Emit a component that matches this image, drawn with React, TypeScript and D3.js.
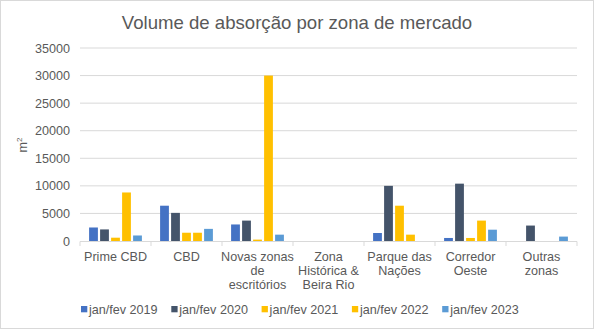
import React from "react";
import * as d3 from "d3";

const categories = [
  "Prime CBD",
  "CBD",
  "Novas zonas de escritórios",
  "Zona Histórica & Beira Rio",
  "Parque das Nações",
  "Corredor Oeste",
  "Outras zonas",
];
const categoryLines = [
  ["Prime CBD"],
  ["CBD"],
  ["Novas zonas", "de", "escritórios"],
  ["Zona", "Histórica &", "Beira Rio"],
  ["Parque das", "Nações"],
  ["Corredor", "Oeste"],
  ["Outras", "zonas"],
];
const seriesNames = ["jan/fev 2019", "jan/fev 2020", "jan/fev 2021", "jan/fev 2022", "jan/fev 2023"];
const seriesColors = ["#4472C4", "#44546A", "#FFC000", "#FFC000", "#5B9BD5"];
const v2019 = [2450, 6400, 3000, 0, 1450, 550, 0];
const v2020 = [2100, 5100, 3700, 0, 10000, 10400, 2800];
const v2021 = [600, 1500, 250, 0, 6400, 550, 0];
const v2022 = [8800, 1500, 30000, 0, 1150, 3700, 0];
const v2023 = [1000, 2200, 1150, 0, 0, 2050, 800];
const seriesValues = [v2019, v2020, v2021, v2022, v2023];
const yTicks = [0, 5000, 10000, 15000, 20000, 25000, 30000, 35000];

const W = 594;
const H = 329;
const FONT = "'Liberation Sans', Arial, sans-serif";
const TEXT = "#595959";

export default function App() {
  const x0 = d3.scaleBand<string>().domain(categories).range([80, 577]);
  const x1 = d3
    .scaleBand<string>()
    .domain(seriesNames)
    .range([9.1, 61.9])
    .paddingInner(0.2);
  const y = d3.scaleLinear().domain([0, 35000]).range([241, 48]);

  const boundaries = [...categories.map((c) => x0(c) as number), 577];

  return (
    <svg
      width={W}
      height={H}
      style={{ position: "absolute", left: 0, top: 0 }}
      fontFamily={FONT}
    >
      <rect x={0} y={0} width={W} height={H} fill="#fff" />
      <rect x={0.5} y={0.5} width={W - 1} height={H - 1} fill="none" stroke="#d9d9d9" />
      <text x={297} y={29} textAnchor="middle" fontSize={18.6} fill={TEXT}>
        Volume de absorção por zona de mercado
      </text>

      {yTicks.map((t) => (
        <g key={t}>
          {t > 0 && (
            <line x1={80} x2={577} y1={y(t)} y2={y(t)} stroke="#d9d9d9" strokeWidth={1} />
          )}
          <text x={70} y={y(t) + 4.5} textAnchor="end" fontSize={12.6} fill={TEXT}>
            {t}
          </text>
        </g>
      ))}

      <text
        transform={`translate(27,145) rotate(-90)`}
        textAnchor="middle"
        fontSize={12.6}
        fill={TEXT}
      >
        m<tspan fontSize={8} dy={-5}>2</tspan>
      </text>

      {categories.map((c, ci) => (
        <g key={c} transform={`translate(${x0(c)},0)`}>
          {seriesNames.map((s, si) => {
            const v = seriesValues[si][ci];
            if (!v) return null;
            return (
              <rect
                key={s}
                x={x1(s)}
                y={y(v)}
                width={x1.bandwidth()}
                height={y(0) - y(v)}
                fill={seriesColors[si]}
              />
            );
          })}
        </g>
      ))}

      <line x1={80} x2={577} y1={241.5} y2={241.5} stroke="#d9d9d9" />
      {boundaries.map((b, i) => (
        <line key={i} x1={b} x2={b} y1={241.5} y2={246} stroke="#d9d9d9" />
      ))}

      {categories.map((c, ci) => (
        <text
          key={c}
          x={(x0(c) as number) + x0.bandwidth() / 2}
          y={261}
          textAnchor="middle"
          fontSize={12.6}
          fill={TEXT}
        >
          {categoryLines[ci].map((l, li) => (
            <tspan key={li} x={(x0(c) as number) + x0.bandwidth() / 2} dy={li === 0 ? 0 : 14}>
              {l}
            </tspan>
          ))}
        </text>
      ))}

      {seriesNames.map((s, si) => {
        const lx = 81 + si * 90.3;
        return (
          <g key={s}>
            <rect x={lx} y={306} width={6.3} height={6.3} fill={seriesColors[si]} />
            <text x={lx + 8} y={313.5} fontSize={12.6} fill={TEXT}>
              {s}
            </text>
          </g>
        );
      })}
    </svg>
  );
}
